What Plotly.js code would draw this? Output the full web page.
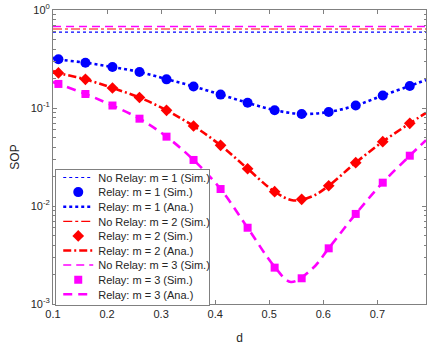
<!DOCTYPE html>
<html>
<head>
<meta charset="utf-8">
<script src="https://cdn.plot.ly/plotly-3.0.1.min.js"></script>
<style>html,body{margin:0;padding:0;background:#fff;}#chart{width:428px;height:345px;}</style>
</head>
<body>
<div id="chart"></div>
<script>
// ---- data ----
const dSim = [0.11, 0.16, 0.21, 0.26, 0.31, 0.36, 0.41, 0.46, 0.51, 0.56, 0.61, 0.66, 0.71, 0.76];
const noRelayX = [0.10, 0.79];
const noRelayM1 = [0.595, 0.595];
const noRelayM2 = [0.64, 0.64];
const noRelayM3 = [0.68, 0.68];

const relaySimM1 = [0.314, 0.290, 0.262, 0.233, 0.196, 0.166, 0.137, 0.113, 0.0947, 0.0869, 0.0910, 0.106, 0.134, 0.168];
const relaySimM2 = [0.228, 0.196, 0.160, 0.128, 0.0947, 0.0655, 0.0416, 0.0240, 0.0140, 0.0117, 0.0161, 0.0277, 0.0453, 0.0698];
const relaySimM3 = [0.176, 0.139, 0.106, 0.0778, 0.0510, 0.0295, 0.0149, 0.0060, 0.00235, 0.00183, 0.0037, 0.0083, 0.0173, 0.0326];

const dAnaM1 = [0.10, 0.11, 0.16, 0.21, 0.26, 0.31, 0.36, 0.41, 0.46, 0.51, 0.56, 0.61, 0.66, 0.71, 0.76, 0.79];
const relayAnaM1 = [0.325, 0.314, 0.290, 0.262, 0.233, 0.197, 0.166, 0.137, 0.113, 0.095, 0.087, 0.091, 0.106, 0.134, 0.168, 0.193];
const dAnaM2 = [0.10, 0.11, 0.16, 0.21, 0.26, 0.31, 0.36, 0.41, 0.46, 0.51, 0.545, 0.58, 0.61, 0.66, 0.71, 0.76, 0.79];
const relayAnaM2 = [0.239, 0.228, 0.196, 0.160, 0.128, 0.0947, 0.0655, 0.0416, 0.0240, 0.0140, 0.0114, 0.0126, 0.0161, 0.0277, 0.0453, 0.0698, 0.089];
const dAnaM3 = [0.10, 0.11, 0.16, 0.21, 0.26, 0.31, 0.36, 0.41, 0.46, 0.51, 0.54, 0.58, 0.61, 0.66, 0.71, 0.76, 0.79];
const relayAnaM3 = [0.184, 0.176, 0.139, 0.106, 0.0778, 0.0510, 0.0295, 0.0149, 0.0060, 0.00240, 0.00168, 0.00230, 0.0037, 0.0083, 0.0173, 0.0326, 0.047];

const names = [
  'No Relay: m = 1 (Sim.)', 'Relay: m = 1 (Sim.)', 'Relay: m = 1 (Ana.)',
  'No Relay: m = 2 (Sim.)', 'Relay: m = 2 (Sim.)', 'Relay: m = 2 (Ana.)',
  'No Relay: m = 3 (Sim.)', 'Relay: m = 3 (Sim.)', 'Relay: m = 3 (Ana.)'
];
const xTicks = [0.1, 0.2, 0.3, 0.4, 0.5, 0.6, 0.7];
const yTicks = [0.001, 0.01, 0.1, 1];
const yTickText = ['10<sup>-3</sup>', '10<sup>-2</sup>', '10<sup>-1</sup>', '10<sup>0</sup>'];

// ---- styles ----
const BLUE = '#0000ff', RED = '#ff0000', MAG = '#ff00ff';
const traces = [
  {x: noRelayX, y: noRelayM1, mode: 'lines', name: names[0], line: {color: BLUE, width: 1.2, dash: 'dot'}},
  {x: dSim, y: relaySimM1, mode: 'markers', name: names[1], marker: {color: BLUE, size: 10, symbol: 'circle'}},
  {x: dAnaM1, y: relayAnaM1, mode: 'lines', name: names[2], line: {color: BLUE, width: 2.6, dash: 'dot', shape: 'spline'}},
  {x: noRelayX, y: noRelayM2, mode: 'lines', name: names[3], line: {color: RED, width: 1.2, dash: 'dashdot'}},
  {x: dSim, y: relaySimM2, mode: 'markers', name: names[4], marker: {color: RED, size: 9, symbol: 'diamond'}},
  {x: dAnaM2, y: relayAnaM2, mode: 'lines', name: names[5], line: {color: RED, width: 2.6, dash: '8px,3px,2px,3px', shape: 'spline'}},
  {x: noRelayX, y: noRelayM3, mode: 'lines', name: names[6], line: {color: MAG, width: 1.5, dash: '8px,5px'}},
  {x: dSim, y: relaySimM3, mode: 'markers', name: names[7], marker: {color: MAG, size: 8, symbol: 'square'}},
  {x: dAnaM3, y: relayAnaM3, mode: 'lines', name: names[8], line: {color: MAG, width: 2.6, dash: '9px,6px', shape: 'spline'}}
];

const minorVals = [];
for (let e = -3; e < 0; e++) for (let k = 2; k <= 9; k++) minorVals.push(k * Math.pow(10, e));

const AX = '#808080', TXT = '#262626';
const layout = {
  width: 428, height: 345,
  margin: {l: 53, r: 2, t: 10, b: 41},
  paper_bgcolor: '#fff', plot_bgcolor: '#fff',
  font: {family: 'Liberation Sans, Arial, sans-serif', size: 11, color: TXT},
  showlegend: true,
  legend: {
    x: 0.006, xanchor: 'left', y: 0.004, yanchor: 'bottom',
    bgcolor: '#fff', bordercolor: '#808080', borderwidth: 1,
    font: {family: 'Liberation Sans, Arial, sans-serif', size: 11, color: TXT},
    tracegroupgap: 0
  },
  xaxis: {
    automargin: false,
    range: [0.1, 0.79], tickmode: 'array', tickvals: xTicks, ticktext: xTicks.map(v => v.toFixed(1)),
    ticks: 'inside', ticklen: 4, tickcolor: AX, showline: true, linecolor: AX, linewidth: 1,
    mirror: 'ticks', showgrid: false, zeroline: false,
    tickfont: {size: 11, color: TXT},
    title: {text: 'd', font: {size: 12, color: TXT}}
  },
  yaxis: {
    automargin: false,
    type: 'log', range: [-3, 0], tickmode: 'array', tickvals: yTicks, ticktext: yTickText,
    ticks: 'inside', ticklen: 4, tickcolor: AX, showline: true, linecolor: AX, linewidth: 1,
    mirror: 'ticks', showgrid: false, zeroline: false,
    minor: {tickmode: 'array', tickvals: minorVals, ticks: 'inside', ticklen: 2.5, tickcolor: AX, showgrid: false},
    tickfont: {size: 11, color: TXT},
    title: {text: 'SOP', font: {size: 12, color: TXT}}
  }
};

Plotly.newPlot('chart', traces, layout, {displayModeBar: false, staticPlot: true}).then(gd => {
  // tighten legend row spacing to match reference, keeping its bottom edge fixed
  const items = gd.querySelectorAll('.legend .traces');
  if (!items.length) return;
  const step = 14.6;
  const parseT = g => { const m = /translate\(\s*([-\d.]+)[ ,]+([-\d.]+)/.exec(g.getAttribute('transform') || ''); return m ? [parseFloat(m[1]), parseFloat(m[2])] : [0, 0]; };
  const [, y0] = parseT(items[0]);
  const [, y1] = parseT(items[items.length - 1]);
  const oldStep = items.length > 1 ? (y1 - y0) / (items.length - 1) : step;
  items.forEach((g, i) => g.setAttribute('transform', 'translate(' + (parseT(g)[0] + 2) + ',' + (y0 - 7 + i * step) + ')'));
  const D = (items.length - 1) * (oldStep - step) + 4;
  const bg = gd.querySelector('.legend rect.bg');
  if (bg) {
    const h = parseFloat(bg.getAttribute('height'));
    bg.setAttribute('height', h - D - 7);
    const w = parseFloat(bg.getAttribute('width'));
    bg.setAttribute('width', w - 4);
  }
  const leg = gd.querySelector('g.legend');
  if (leg) { const [lx, ly] = parseT(leg); leg.setAttribute('transform', 'translate(' + lx + ',' + (ly + D + 10) + ')'); }
});
</script>
</body>
</html>
